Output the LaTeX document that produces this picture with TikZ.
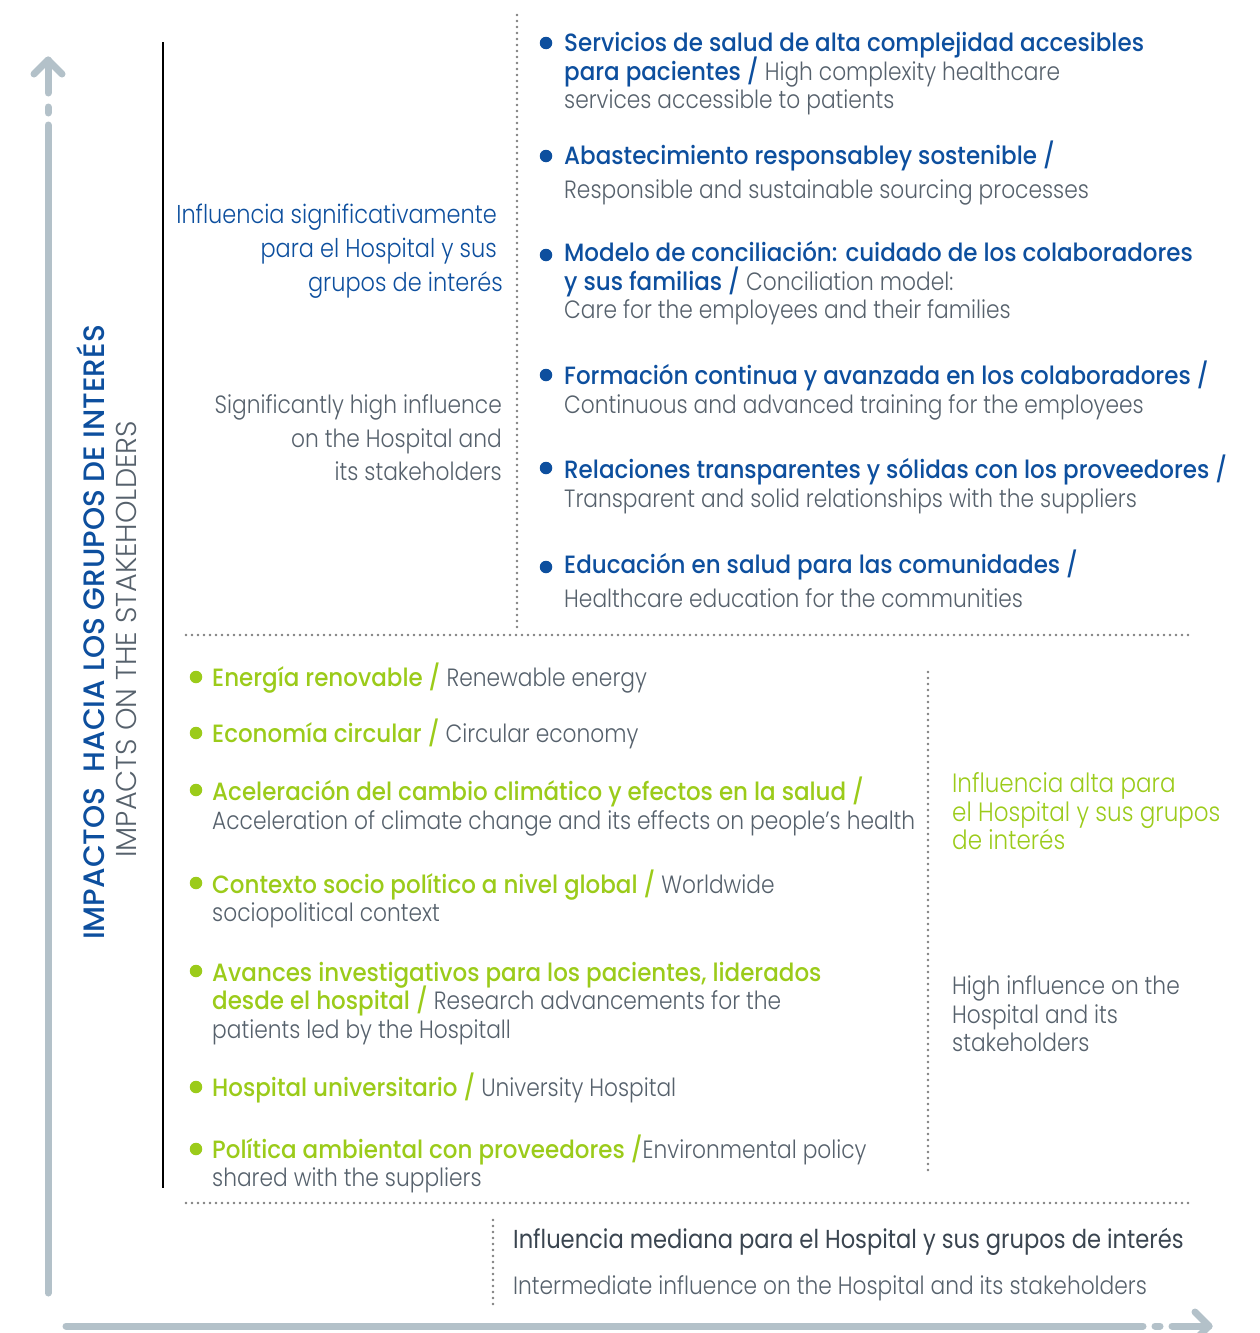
\documentclass[tikz,border=0pt]{standalone}
\usepackage{fontspec}
\setmainfont{Poppins}[UprightFont=* Light, BoldFont=* Medium, UprightFeatures={FakeStretch=0.87}, BoldFeatures={FakeStretch=0.92}]
\newfontfamily\titlefont{Poppins}[UprightFont=* Light, BoldFont=* Medium]
\newfontfamily\regfont{Poppins}[FakeStretch=0.87]
\definecolor{blueC}{HTML}{0D4F9E}
\definecolor{greenC}{HTML}{9BCB1A}
\definecolor{grayT}{HTML}{56616C}
\definecolor{darkT}{HTML}{3A4550}
\definecolor{arrowC}{HTML}{B3C1C9}
\definecolor{dotC}{HTML}{7F7F7F}
\newcommand{\SB}[1]{{\bfseries\color{blueC}#1}}
\newcommand{\SG}[1]{{\bfseries\color{greenC}#1}}
\tikzset{
  ln/.style={anchor=base west, inner sep=0pt, text=grayT, font=\fontsize{25}{30}\selectfont},
  lnr/.style={anchor=base east, inner sep=0pt, font=\fontsize{25}{30}\selectfont},
  bulletB/.style={circle, fill=blueC, inner sep=0pt, minimum size=12.5pt},
  bulletG/.style={circle, fill=greenC, inner sep=0pt, minimum size=12.5pt},
  dots/.style={draw=dotC, line width=2.6pt, line cap=round, dash pattern=on 0pt off 6pt},
  axis/.style={draw=arrowC, line width=7pt, line cap=round, line join=round},
}
\begin{document}
\begin{tikzpicture}[x=1pt,y=-1pt]
\useasboundingbox (0,0) rectangle (1259,1333);
% axes
\coordinate (vA) at (48,1293); \coordinate (vB) at (48,125);
\coordinate (vC) at (48,107); \coordinate (vD) at (48,113);
\coordinate (vE) at (48,93); \coordinate (vF) at (48,60);
\coordinate (vL) at (34,74); \coordinate (vR) at (62,74);
\draw[axis] (vA) -- (vB);
\draw[axis] (vC) -- (vD);
\draw[axis] (vE) -- (vF);
\draw[axis] (vL) -- (vF) -- (vR);
\coordinate (hA) at (66,1326); \coordinate (hB) at (1143,1326);
\coordinate (hC) at (1155,1326); \coordinate (hD) at (1160,1326);
\coordinate (hE) at (1172,1326); \coordinate (hF) at (1209,1326);
\coordinate (hT) at (1195,1312); \coordinate (hU) at (1195,1340);
\draw[axis] (hA) -- (hB);
\draw[axis] (hC) -- (hD);
\draw[axis] (hE) -- (hF);
\draw[axis] (hT) -- (hF) -- (hU);
% thin line
\coordinate (tA) at (163,42); \coordinate (tB) at (163,1188);
\draw[line width=1.2pt] (tA) -- (tB);
% dotted separators
\coordinate (d1a) at (517,15); \coordinate (d1b) at (517,632);
\coordinate (d2a) at (186,635); \coordinate (d2b) at (1190,635);
\coordinate (d3a) at (928,672); \coordinate (d3b) at (928,1170);
\coordinate (d4a) at (186,1203); \coordinate (d4b) at (1190,1203);
\coordinate (d5a) at (493,1220); \coordinate (d5b) at (493,1305);
\draw[dots] (d1a) -- (d1b);
\draw[dots] (d2a) -- (d2b);
\draw[dots] (d3a) -- (d3b);
\draw[dots] (d4a) -- (d4b);
\draw[dots] (d5a) -- (d5b);
% rotated titles
\node[rotate=90, anchor=base west, inner sep=0pt, text=blueC, font=\titlefont\fontsize{29.5}{30}\selectfont\bfseries] (titleES) at (104,940) {IMPACTOS\ \ HACIA LOS GRUPOS DE INTERÉS};
\node[rotate=90, anchor=base west, inner sep=0pt, text=grayT, font=\titlefont\fontsize{28.7}{30}\selectfont] (titleEN) at (136,858) {IMPACTS ON THE STAKEHOLDERS};
% upper left labels
\node[lnr, text=blueC, font=\fontsize{25.8}{30}\selectfont] (ul1) at (497,223) {Influencia significativamente};
\node[lnr, text=blueC, font=\fontsize{25.8}{30}\selectfont] (ul2) at (497,257) {para el Hospital y sus};
\node[lnr, text=blueC, font=\fontsize{25.8}{30}\selectfont] (ul3) at (503,291) {grupos de interés};
\node[lnr, text=grayT] (ul4) at (502,413) {Significantly high influence};
\node[lnr, text=grayT] (ul5) at (502,447) {on the Hospital and};
\node[lnr, text=grayT] (ul6) at (502,480) {its stakeholders};
% upper right items
\node[bulletB] (b1) at (546,43) {};
\node[ln] (r1a) at (564,51) {\SB{Servicios de salud de alta complejidad accesibles}};
\node[ln] (r1b) at (564,80) {\SB{para pacientes /} High complexity healthcare};
\node[ln] (r1c) at (564,108) {services accessible to patients};
\node[bulletB] (b2) at (546,156) {};
\node[ln] (r2a) at (564,164) {\SB{Abastecimiento responsabley sostenible /}};
\node[ln] (r2b) at (564,198) {Responsible and sustainable sourcing processes};
\node[bulletB] (b3) at (546,255) {};
\node[ln] (r3a) at (564,261) {\SB{Modelo de conciliación: cuidado de los colaboradores}};
\node[ln] (r3b) at (564,290) {\SB{y sus familias /} Conciliation model:};
\node[ln] (r3c) at (564,318) {Care for the employees and their families};
\node[bulletB] (b4) at (546,375) {};
\node[ln] (r4a) at (564,384) {\SB{Formación continua y avanzada en los colaboradores /}};
\node[ln] (r4b) at (564,413) {Continuous and advanced training for the employees};
\node[bulletB] (b5) at (546,468) {};
\node[ln] (r5a) at (564,478) {\SB{Relaciones transparentes y sólidas con los proveedores /}};
\node[ln] (r5b) at (564,507) {Transparent and solid relationships with the suppliers};
\node[bulletB] (b6) at (546,567) {};
\node[ln] (r6a) at (564,573) {\SB{Educación en salud para las comunidades /}};
\node[ln] (r6b) at (564,607) {Healthcare education for the communities};
% lower left items
\node[bulletG] (g1) at (196,677) {};
\node[ln] (l1a) at (212,686) {\SG{Energía renovable /} Renewable energy};
\node[bulletG] (g2) at (196,733) {};
\node[ln] (l2a) at (212,742) {\SG{Economía circular /} Circular economy};
\node[bulletG] (g3) at (196,790) {};
\node[ln] (l3a) at (212,800) {\SG{Aceleración del cambio climático y efectos en la salud /}};
\node[ln] (l3b) at (212,829) {Acceleration of climate change and its effects on people’s health};
\node[bulletG] (g4) at (196,883) {};
\node[ln] (l4a) at (212,893) {\SG{Contexto socio político a nivel global /} Worldwide};
\node[ln] (l4b) at (212,921) {sociopolitical context};
\node[bulletG] (g5) at (196,971) {};
\node[ln] (l5a) at (212,981) {\SG{Avances investigativos para los pacientes, liderados}};
\node[ln] (l5b) at (212,1009) {\SG{desde el hospital /} Research advancements for the};
\node[ln] (l5c) at (212,1038) {patients led by the Hospitall};
\node[bulletG] (g6) at (196,1087) {};
\node[ln] (l6a) at (212,1096) {\SG{Hospital universitario /} University Hospital};
\node[bulletG] (g7) at (196,1149) {};
\node[ln] (l7a) at (212,1158) {\SG{Política ambiental con proveedores /}Environmental policy};
\node[ln] (l7b) at (212,1186) {shared with the suppliers};
% lower right labels
\node[ln, text=greenC, font=\fontsize{26.5}{30}\selectfont] (lr1) at (952,792) {Influencia alta para};
\node[ln, text=greenC, font=\fontsize{26.5}{30}\selectfont] (lr2) at (952,821) {el Hospital y sus grupos};
\node[ln, text=greenC, font=\fontsize{26.5}{30}\selectfont] (lr3) at (952,849) {de interés};
\node[ln] (lr4) at (952,994) {High influence on the};
\node[ln] (lr5) at (952,1023) {Hospital and its};
\node[ln] (lr6) at (952,1051) {stakeholders};
% bottom labels
\node[ln, text=darkT, font=\regfont\fontsize{26}{30}\selectfont] (bt1) at (513,1248) {Influencia mediana para el Hospital y sus grupos de interés};
\node[ln] (bt2) at (513,1294) {Intermediate influence on the Hospital and its stakeholders};
\end{tikzpicture}
\end{document}
